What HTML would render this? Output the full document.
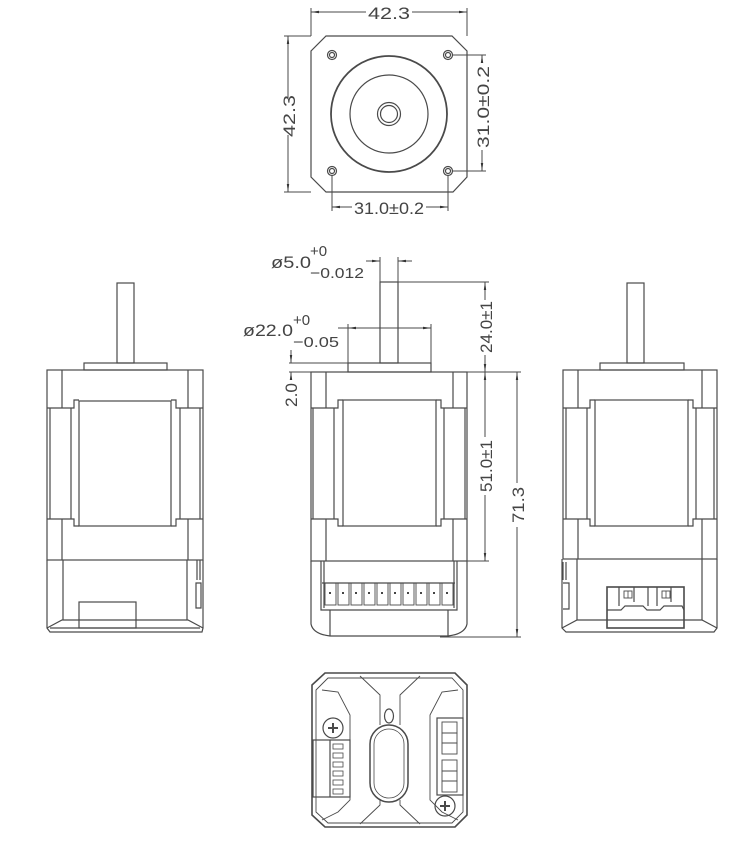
<!DOCTYPE html>
<html><head><meta charset="utf-8"><style>html,body{margin:0;background:#fff}svg{display:block}</style></head><body>
<svg width="745" height="849" viewBox="0 0 745 849" xmlns="http://www.w3.org/2000/svg" font-family="Liberation Sans, sans-serif" fill="none" stroke="#4a4a4a" stroke-width="1.2">
<defs>
<marker id="a" viewBox="0 0 10 10" refX="10" refY="5" markerWidth="8" markerHeight="8" orient="auto-start-reverse"><path d="M0,3.5 L10,5 L0,6.5z" fill="#333" stroke="none"/></marker>
</defs>
<!-- TOP VIEW -->
<path d="M326,36 H452 L467,51 V177 L453,192 H326 L311,177 V51 Z"/>
<g><circle cx="332" cy="55" r="4.5"/><circle cx="332" cy="55" r="2.5"/>
<circle cx="448" cy="55" r="4.5"/><circle cx="448" cy="55" r="2.5"/>
<circle cx="332" cy="171" r="4.5"/><circle cx="332" cy="171" r="2.5"/>
<circle cx="448" cy="171" r="4.5"/><circle cx="448" cy="171" r="2.5"/></g>
<circle cx="389" cy="114" r="58" stroke-width="1.8"/>
<circle cx="389" cy="114" r="39"/>
<circle cx="389" cy="114" r="11.5"/><circle cx="389" cy="114" r="8.5"/>
<g stroke-width="1">
<line x1="311" y1="8" x2="311" y2="36"/><line x1="467" y1="8" x2="467" y2="36"/>
<line x1="311" y1="12" x2="366" y2="12" marker-start="url(#a)"/><line x1="412" y1="12" x2="467" y2="12" marker-end="url(#a)"/>
<line x1="284" y1="36" x2="311" y2="36"/><line x1="284" y1="192" x2="311" y2="192"/>
<line x1="288" y1="36" x2="288" y2="98" marker-start="url(#a)"/><line x1="288" y1="135" x2="288" y2="192" marker-end="url(#a)"/>
<line x1="452" y1="55" x2="486" y2="55"/><line x1="452" y1="171" x2="486" y2="171"/>
<line x1="482" y1="55" x2="482" y2="63" marker-start="url(#a)"/><line x1="482" y1="150" x2="482" y2="171" marker-end="url(#a)"/>
<line x1="332" y1="175" x2="332" y2="211"/><line x1="448" y1="175" x2="448" y2="211"/>
<line x1="332" y1="207" x2="352" y2="207" marker-start="url(#a)"/><line x1="426" y1="207" x2="448" y2="207" marker-end="url(#a)"/>
</g>
<g fill="#444" stroke="none" font-size="17">
<text x="389" y="19" text-anchor="middle" textLength="42" lengthAdjust="spacingAndGlyphs">42.3</text>
<text transform="translate(295,116) rotate(-90)" text-anchor="middle" textLength="42" lengthAdjust="spacingAndGlyphs">42.3</text>
<text transform="translate(489,107) rotate(-90)" text-anchor="middle" textLength="82" lengthAdjust="spacingAndGlyphs">31.0±0.2</text>
<text x="389" y="214" text-anchor="middle" textLength="70" lengthAdjust="spacingAndGlyphs">31.0±0.2</text>
</g>

<!-- LEFT VIEW -->
<g>
<rect x="117" y="283" width="17" height="80"/>
<rect x="84" y="363" width="83" height="7"/>
<rect x="47" y="370" width="156" height="190"/>
<line x1="62" y1="370" x2="62" y2="408"/><line x1="188" y1="370" x2="188" y2="408"/>
<line x1="62" y1="519" x2="62" y2="560"/><line x1="188" y1="519" x2="188" y2="560"/>
<path d="M47,408 H74 V400 H79 M171,400 H176 V408 H203"/>
<path d="M47,519 H74 V526 H79 M171,526 H176 V519 H203"/>
<line x1="50" y1="408" x2="50" y2="519"/><line x1="71" y1="408" x2="71" y2="519"/>
<line x1="180" y1="408" x2="180" y2="519"/><line x1="200" y1="408" x2="200" y2="519"/>
<rect x="79" y="401" width="92" height="125"/>
<path d="M47,560 V628 L50,632 H202 L203,628 V560"/>
<line x1="63" y1="560" x2="63" y2="620"/><line x1="187" y1="560" x2="187" y2="620"/>
<path d="M47,628 L62,620 H188 L203,628 M50,628 H200"/>
<rect x="79" y="602" width="57" height="26"/>
<path d="M197,560 V580 M200,560 V580 M196,583 H201 V608 H196Z"/>
</g>

<!-- MIDDLE VIEW -->
<g>
<rect x="380" y="282" width="18" height="81"/>
<rect x="348" y="363" width="83" height="9"/>
<rect x="311" y="372" width="156" height="189"/>
<line x1="326" y1="372" x2="326" y2="408"/><line x1="453" y1="372" x2="453" y2="408"/>
<line x1="326" y1="519" x2="326" y2="561"/><line x1="453" y1="519" x2="453" y2="561"/>
<path d="M311,408 H338 V400 H343 M436,400 H441 V408 H467"/>
<path d="M311,519 H338 V526 H343 M436,526 H441 V519 H467"/>
<line x1="313" y1="408" x2="313" y2="519"/><line x1="334" y1="408" x2="334" y2="519"/>
<line x1="444" y1="408" x2="444" y2="519"/><line x1="465" y1="408" x2="465" y2="519"/>
<rect x="343" y="400" width="93" height="126"/>
<path d="M311,561 V624 Q313,634 330,636 H448 Q465,634 467,624 V561"/>
<path d="M321,561 V610 H457 V561 M324,561 V608 M454,561 V608"/>
<line x1="322" y1="583" x2="455" y2="583"/>
<path d="M330,610 V636 M448,610 V636"/>
<g stroke-width="0.9">
<rect x="325" y="583" width="11" height="22"/><rect x="338" y="583" width="11" height="22"/><rect x="351" y="583" width="11" height="22"/><rect x="364" y="583" width="11" height="22"/><rect x="377" y="583" width="11" height="22"/><rect x="390" y="583" width="11" height="22"/><rect x="403" y="583" width="11" height="22"/><rect x="416" y="583" width="11" height="22"/><rect x="429" y="583" width="11" height="22"/><rect x="442" y="583" width="11" height="22"/>
</g>
<g fill="#444" stroke="none"><rect x="329" y="592" width="2" height="2"/><rect x="342" y="592" width="2" height="2"/><rect x="355" y="592" width="2" height="2"/><rect x="368" y="592" width="2" height="2"/><rect x="381" y="592" width="2" height="2"/><rect x="394" y="592" width="2" height="2"/><rect x="407" y="592" width="2" height="2"/><rect x="420" y="592" width="2" height="2"/><rect x="433" y="592" width="2" height="2"/><rect x="446" y="592" width="2" height="2"/></g>
</g>
<!-- middle dims -->
<g stroke-width="1">
<line x1="380" y1="257" x2="380" y2="282"/><line x1="398" y1="257" x2="398" y2="282"/>
<line x1="366" y1="261" x2="380" y2="261" marker-end="url(#a)"/><line x1="412" y1="261" x2="398" y2="261" marker-end="url(#a)"/>
<line x1="348" y1="324" x2="348" y2="363"/><line x1="431" y1="324" x2="431" y2="363"/>
<line x1="338" y1="328" x2="431" y2="328" marker-end="url(#a)"/><line x1="370" y1="328" x2="348" y2="328" marker-end="url(#a)"/>
<line x1="398" y1="282" x2="489" y2="282"/>
<line x1="485" y1="282" x2="485" y2="300" marker-start="url(#a)"/><line x1="485" y1="355" x2="485" y2="372" marker-end="url(#a)"/>
<line x1="467" y1="372" x2="521" y2="372"/><line x1="289" y1="372" x2="311" y2="372"/>
<line x1="289" y1="363" x2="348" y2="363"/>
<line x1="467" y1="561" x2="489" y2="561"/>
<line x1="485" y1="372" x2="485" y2="437" marker-start="url(#a)"/><line x1="485" y1="495" x2="485" y2="561" marker-end="url(#a)"/>
<line x1="440" y1="637" x2="521" y2="637"/>
<line x1="517" y1="372" x2="517" y2="483" marker-start="url(#a)"/><line x1="517" y1="527" x2="517" y2="637" marker-end="url(#a)"/>
<line x1="291" y1="350" x2="291" y2="363" marker-end="url(#a)"/><line x1="291" y1="380" x2="291" y2="372" marker-end="url(#a)"/>
</g>
<g fill="#444" stroke="none" font-size="17">
<text x="271" y="268" textLength="40" lengthAdjust="spacingAndGlyphs">ø5.0</text>
<text x="310" y="256" font-size="15">+0</text>
<text x="310" y="278" font-size="15" textLength="54" lengthAdjust="spacingAndGlyphs">−0.012</text>
<text x="243" y="336" textLength="50" lengthAdjust="spacingAndGlyphs">ø22.0</text>
<text x="293" y="325" font-size="15">+0</text>
<text x="293" y="347" font-size="15" textLength="46" lengthAdjust="spacingAndGlyphs">−0.05</text>
<text transform="translate(492,327) rotate(-90)" text-anchor="middle" textLength="52" lengthAdjust="spacingAndGlyphs">24.0±1</text>
<text transform="translate(492,466) rotate(-90)" text-anchor="middle" textLength="52" lengthAdjust="spacingAndGlyphs">51.0±1</text>
<text transform="translate(524,505) rotate(-90)" text-anchor="middle" textLength="36" lengthAdjust="spacingAndGlyphs">71.3</text>
<text transform="translate(297,395) rotate(-90)" text-anchor="middle" textLength="24" lengthAdjust="spacingAndGlyphs">2.0</text>
</g>

<!-- RIGHT VIEW -->
<g>
<rect x="627" y="283" width="17" height="80"/>
<rect x="600" y="363" width="84" height="7"/>
<rect x="563" y="370" width="154" height="189"/>
<line x1="578" y1="370" x2="578" y2="408"/><line x1="702" y1="370" x2="702" y2="408"/>
<line x1="578" y1="519" x2="578" y2="559"/><line x1="702" y1="519" x2="702" y2="559"/>
<path d="M563,408 H590 V400 H595 M688,400 H693 V408 H717"/>
<path d="M563,519 H590 V526 H595 M688,526 H693 V519 H717"/>
<line x1="566" y1="408" x2="566" y2="519"/><line x1="587" y1="408" x2="587" y2="519"/>
<line x1="696" y1="408" x2="696" y2="519"/><line x1="714" y1="408" x2="714" y2="519"/>
<rect x="595" y="400" width="93" height="126"/>
<path d="M562,559 V628 L566,632 H714 L717,628 V559"/>
<line x1="577" y1="559" x2="577" y2="620"/><line x1="702" y1="559" x2="702" y2="620"/>
<path d="M562,628 L577,620 H702 L717,628"/>
<path d="M563,562 V580 M566,562 V580 M563,583 H569 V609 H563"/>
<rect x="607" y="587" width="77" height="41" stroke-width="1.6"/>
<path d="M607,610 H621 L625,606 H643 L647,610 H660 L664,606 H682 L684,610"/>
<path d="M619,587 V606 M634,587 V602 M648,587 V606 M657,587 V606 M671,587 V602"/>
<rect x="624" y="591" width="8" height="7" stroke-width="0.9"/><line x1="628" y1="591" x2="628" y2="598" stroke-width="0.8"/>
<rect x="662" y="591" width="8" height="7" stroke-width="0.9"/><line x1="666" y1="591" x2="666" y2="598" stroke-width="0.8"/>
</g>

<!-- BOTTOM VIEW -->
<g>
<path d="M325,673 H455 L467,685 V815 L455,827 H325 L312,815 V685 Z" stroke-width="1.6"/>
<path d="M316,690 L328,678 H452 L463,690 V812 L452,823 H328 L316,812 Z" stroke-width="0.9"/>
<path d="M322,690 L338,692 L350,715 V800 L338,812 L322,820 M458,690 L442,692 L430,715 V800 L442,812 L458,820" stroke-width="0.9"/>
<path d="M360,676 L380,695 V725 M420,676 L400,695 V725 M360,824 L380,805 V800 M420,824 L400,805 V800" stroke-width="0.9"/>
<rect x="370" y="725" width="38" height="77" rx="19" stroke-width="1.5"/>
<rect x="374" y="729" width="30" height="69" rx="15" stroke-width="0.8"/>
<ellipse cx="389" cy="716" rx="4.5" ry="7"/>
<rect x="313" y="740" width="37" height="57"/>
<line x1="330" y1="740" x2="330" y2="797"/>
<g stroke-width="0.8"><rect x="333" y="744" width="10" height="5"/><rect x="333" y="753" width="10" height="5"/><rect x="333" y="762" width="10" height="5"/><rect x="333" y="771" width="10" height="5"/><rect x="333" y="780" width="10" height="5"/><rect x="333" y="789" width="10" height="5"/></g>
<circle cx="333" cy="728" r="10"/><path d="M328,728 H338 M333,723 V733" stroke-width="2"/>
<circle cx="445" cy="806" r="10"/><path d="M440,806 H450 M445,801 V811" stroke-width="2"/>
<rect x="437" y="718" width="26" height="77"/>
<g stroke-width="0.9"><rect x="442" y="722" width="15" height="11"/><rect x="442" y="733" width="15" height="10"/><rect x="442" y="743" width="15" height="11"/><rect x="442" y="760" width="15" height="11"/><rect x="442" y="771" width="15" height="10"/><rect x="442" y="781" width="15" height="11"/></g>
</g>
</svg>
</body></html>
